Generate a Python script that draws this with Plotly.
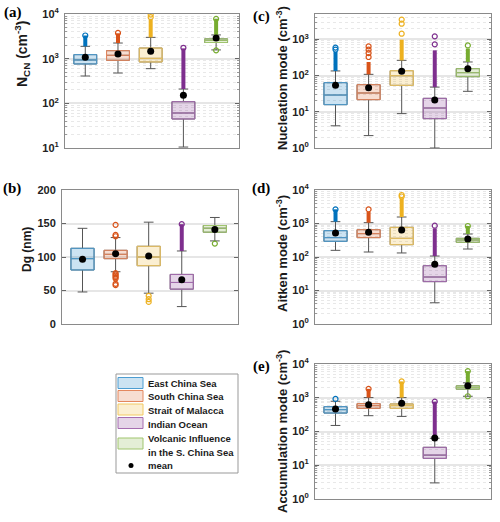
import plotly.graph_objects as go

# ---------------- data ----------------
legend_labels = ["East China Sea", "South China Sea", "Strait of Malacca",
                 "Indian Ocean", "Volcanic Influence|in the S. China Sea"]
positions = [1, 2, 3, 4, 5]

# (a) N_CN (cm-3)
ncn_q1 = [760, 918, 842, 44.6, 2300]
ncn_med = [935, 1190, 1017, 60.8, 2570]
ncn_q3 = [1230, 1510, 1733, 109, 2780]
ncn_lo = [409, 477, 597, 10.5, 1570]
ncn_hi = [1890, 2240, 3000, 209, 3400]
ncn_mean = [1070, 1270, 1460, 151, 2900]
ncn_out_top = [3300, 3700, 7700, 1700, 7800]
ncn_out_pts = [[3300], [3760], [8500, 9700], [1750], [7800, 1535]]

# (b) Dg (nm)
dg_q1 = [80.6, 97.5, 87, 52, 137]
dg_med = [97.5, 104, 100, 62, 143]
dg_q3 = [113, 110, 116, 74, 147]
dg_lo = [47.8, 78, 46, 26, 124]
dg_hi = [142.8, 129, 152, 109, 159]
dg_mean = [96.5, 105, 101.5, 66, 141]
dg_out_top = [None, None, None, 149, None]
dg_out_pts = [[], [148, 133, 131, 76, 74, 72, 70, 68, 60, 58],
              [42, 37, 33], [149], [120]]

# (c) Nucleation mode (cm-3)
nuc_q1 = [15.7, 21.6, 53.7, 6.45, 93]
nuc_med = [29, 33, 99, 12.7, 120]
nuc_q3 = [63.6, 56, 136, 23.5, 155]
nuc_lo = [4.1, 2.2, 8.9, 1.0, 36.7]
nuc_hi = [134, 108, 263, 48, 237]
nuc_mean = [53.7, 46, 131, 21.1, 155]
nuc_out_top = [447, 237, 980, 497, 560]
nuc_out_pts = [[520, 590], [325, 418, 520, 640], [1430, 2700, 3500],
               [727, 1210], [680]]

# (d) Aitken mode (cm-3)
ait_q1 = [294, 378, 233, 18.4, 274]
ait_med = [378, 497, 361, 25.3, 322]
ait_q3 = [611, 655, 769, 55, 361]
ait_lo = [158, 141, 132, 4.3, 173]
ait_hi = [1135, 1059, 1563, 107, 486]
ait_mean = [520, 545, 640, 60.4, 344]
ait_out_top = [2650, 2200, 5650, 718, 841]
ait_out_pts = [[2650], [2650], [6400, 7100], [861], [841]]

# (e) Accumulation mode (cm-3)
acc_q1 = [352, 486, 486, 16, 1794]
acc_med = [443, 583, 583, 20, 2011]
acc_q3 = [545, 670, 655, 34, 2256]
acc_lo = [151, 294, 280, 3.0, 1108]
acc_hi = [787, 1012, 1012, 63, 2773]
acc_mean = [464, 625, 685, 64.7, 2256]
acc_out_top = [None, 1836, 3040, 768, 6170]
acc_out_pts = [[923], [1836], [3040], [768], [6170, 1108]]

# ---------------- style ----------------
colors = ["#0072BD", "#D95319", "#EDB120", "#7E2F8E", "#77AC30"]
edge_colors = ["#4D9DD1", "#E4875E", "#F2C963", "#A56DB0", "#A0C56E"]
fill_colors = ["rgba(0,114,189,0.2)", "rgba(217,83,25,0.2)", "rgba(237,177,32,0.2)",
               "rgba(126,47,142,0.2)", "rgba(119,172,48,0.2)"]
whisker_color = "#555555"
SANS = "Liberation Sans, Arial, sans-serif"
SERIF = "Liberation Serif, Times New Roman, serif"
W, H = 500, 522


def px(xp):
    return xp / W


def py(yp):
    return 1 - yp / H


fig = go.Figure()


def add_panel(xa, ya, q1, med, q3, lo, hi, mean, out_top, out_pts):
    for i, p in enumerate(positions):
        fig.add_trace(go.Box(
            x=[p], q1=[q1[i]], median=[med[i]], q3=[q3[i]],
            lowerfence=[lo[i]], upperfence=[hi[i]],
            xaxis=xa, yaxis=ya, width=0.7, whiskerwidth=0.42,
            line=dict(color=whisker_color, width=1),
            fillcolor="rgba(0,0,0,0)", boxpoints=False,
            showlegend=False, hoverinfo="skip"))
        fig.add_trace(go.Box(
            x=[p], q1=[q1[i]], median=[med[i]], q3=[q3[i]],
            lowerfence=[q1[i]], upperfence=[q3[i]],
            xaxis=xa, yaxis=ya, width=0.7, whiskerwidth=0,
            line=dict(color=edge_colors[i], width=1),
            fillcolor=fill_colors[i], boxpoints=False,
            showlegend=False, hoverinfo="skip"))
        if out_top[i] is not None:
            fig.add_trace(go.Scatter(
                x=[p, p], y=[hi[i], out_top[i]], mode="lines",
                line=dict(color=colors[i], width=4),
                xaxis=xa, yaxis=ya, showlegend=False, hoverinfo="skip"))
        if out_pts[i]:
            fig.add_trace(go.Scatter(
                x=[p] * len(out_pts[i]), y=out_pts[i], mode="markers",
                marker=dict(symbol="circle-open", size=5, color=colors[i],
                            line=dict(width=1.2, color=colors[i])),
                xaxis=xa, yaxis=ya, showlegend=False, hoverinfo="skip"))
    fig.add_trace(go.Scatter(
        x=positions, y=mean, mode="markers",
        marker=dict(color="black", size=7),
        xaxis=xa, yaxis=ya, showlegend=False, hoverinfo="skip"))


add_panel("x", "y", ncn_q1, ncn_med, ncn_q3, ncn_lo, ncn_hi, ncn_mean, ncn_out_top, ncn_out_pts)
add_panel("x2", "y2", dg_q1, dg_med, dg_q3, dg_lo, dg_hi, dg_mean, dg_out_top, dg_out_pts)
add_panel("x3", "y3", nuc_q1, nuc_med, nuc_q3, nuc_lo, nuc_hi, nuc_mean, nuc_out_top, nuc_out_pts)
add_panel("x4", "y4", ait_q1, ait_med, ait_q3, ait_lo, ait_hi, ait_mean, ait_out_top, ait_out_pts)
add_panel("x5", "y5", acc_q1, acc_med, acc_q3, acc_lo, acc_hi, acc_mean, acc_out_top, acc_out_pts)

tickfont = dict(family=SANS, size=11, color="#222222", weight="bold")


def xaxis(domain, anchor):
    return dict(domain=domain, anchor=anchor, range=[0.38, 5.7],
                showticklabels=False, ticks="", showgrid=False, zeroline=False,
                showline=True, linecolor="#8a8a8a", linewidth=1, mirror=True,
                automargin=False)


def ylog(domain, anchor, lo_e, hi_e, top):
    exps = list(range(lo_e, hi_e + 1))
    minor = [m * 10 ** e for e in range(lo_e, hi_e + 1) for m in range(2, 10)]
    return dict(domain=domain, anchor=anchor, type="log", range=[lo_e, top],
                tickmode="array", tickvals=[10 ** e for e in exps],
                ticktext=["10<sup>%d</sup>" % e for e in exps],
                ticks="inside", ticklen=4, tickcolor="#666666",
                showline=True, linecolor="#8a8a8a", linewidth=1, mirror="ticks",
                showgrid=True, gridcolor="#e6e6e6", gridwidth=1.5,
                minor=dict(tickmode="array", tickvals=minor, ticks="inside", ticklen=2,
                           tickcolor="#999999", showgrid=True, gridcolor="#e8e8e8",
                           griddash="dot", gridwidth=1),
                tickfont=tickfont, zeroline=False, automargin=False,
                ticklabelstandoff=3)


xl = [px(65), px(239)]
xl_b = [px(62), px(238)]
xr = [px(315), px(491)]
ya_d = [py(148), py(14)]
yb_d = [py(324), py(190)]
ye_d = [py(499), py(364)]

fig.update_layout(
    width=W, height=H, margin=dict(l=0, r=0, t=0, b=0),
    paper_bgcolor="white", plot_bgcolor="white", boxmode="overlay",
    showlegend=False,
    xaxis=xaxis(xl, "y"), xaxis2=xaxis(xl_b, "y2"), xaxis3=xaxis(xr, "y3"),
    xaxis4=xaxis(xr, "y4"), xaxis5=xaxis(xr, "y5"),
    yaxis=ylog(ya_d, "x", 1, 4, 4),
    yaxis2=dict(domain=yb_d, anchor="x2", range=[0, 200], tickmode="array",
                tickvals=[0, 50, 100, 150, 200], ticks="inside", ticklen=4,
                tickcolor="#666666", showline=True, linecolor="#8a8a8a",
                linewidth=1, mirror="ticks", showgrid=True, gridcolor="#e6e6e6",
                gridwidth=1.5, tickfont=tickfont, zeroline=False,
                automargin=False, ticklabelstandoff=3),
    yaxis3=ylog(ya_d, "x3", 0, 3, 3.699),
    yaxis4=ylog(yb_d, "x4", 0, 4, 4),
    yaxis5=ylog(ye_d, "x5", 0, 4, 4),
)

ann = []


def title(text, x, y, size):
    ann.append(dict(text=text, x=px(x), y=py(y), xref="paper", yref="paper",
                    textangle=-90, showarrow=False, xanchor="center", yanchor="middle",
                    font=dict(family=SANS, size=size, color="#1a1a1a", weight="bold")))


title("N<sub>CN</sub> (cm<sup>-3</sup>)", 22, 54, 14)
title("Dg (nm)", 27, 250, 12)
title("Nucleation mode (cm<sup>-3</sup>)", 282, 78, 13)
title("Aitken mode (cm<sup>-3</sup>)", 282, 254, 13)
title("Accumulation mode (cm<sup>-3</sup>)", 282, 432, 13)

for lab, x, y in [("(a)", 13, 13), ("(b)", 12, 189), ("(c)", 261, 16),
                  ("(d)", 261, 189), ("(e)", 261, 366)]:
    ann.append(dict(text=lab, x=px(x), y=py(y), xref="paper", yref="paper",
                    showarrow=False, xanchor="center", yanchor="middle",
                    font=dict(family=SERIF, size=15, color="black", weight="bold")))

# legend (manual)
shapes = [dict(type="rect", xref="paper", yref="paper", x0=px(116), x1=px(238),
               y0=py(473), y1=py(374), line=dict(color="#999999", width=1),
               fillcolor="white", layer="above")]
sw_centers = [383, 396, 409.5, 423, 443.5]
text_rows = [[383.3], [396.7], [410.5], [424], [438.3, 452.3]]
for i, lab in enumerate(legend_labels):
    shapes.append(dict(type="rect", xref="paper", yref="paper", x0=px(118), x1=px(143),
                       y0=py(sw_centers[i] + 5.5), y1=py(sw_centers[i] - 5.5),
                       line=dict(color=edge_colors[i], width=1),
                       fillcolor=fill_colors[i], layer="above"))
    for part, yy in zip(lab.split("|"), text_rows[i]):
        ann.append(dict(text=part, x=px(145.5), y=py(yy), xref="paper", yref="paper",
                        showarrow=False, xanchor="left", yanchor="middle",
                        font=dict(family=SANS, size=9.5, color="#1a1a1a", weight="bold")))
ann.append(dict(text="mean", x=px(145.5), y=py(465.7), xref="paper", yref="paper",
                showarrow=False, xanchor="left", yanchor="middle",
                font=dict(family=SANS, size=9.5, color="#1a1a1a", weight="bold")))
shapes.append(dict(type="circle", xref="paper", yref="paper", x0=px(128.5), x1=px(133.5),
                   y0=py(468), y1=py(463), fillcolor="black", line=dict(color="black", width=0),
                   layer="above"))

fig.update_layout(annotations=ann, shapes=shapes)
fig.write_html("out.html")
